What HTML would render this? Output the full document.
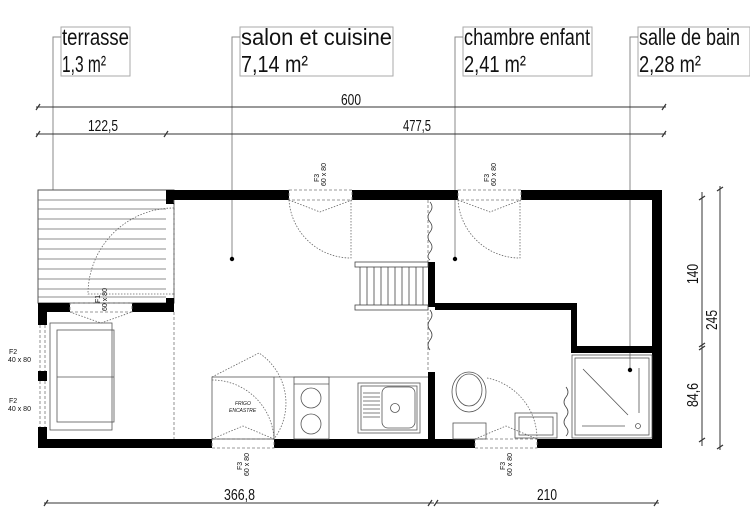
<!DOCTYPE html>
<html><head><meta charset="utf-8"><style>
html,body{margin:0;padding:0;background:#fff;}
svg{display:block;}
text{font-family:"Liberation Sans Narrow","Liberation Sans",sans-serif;fill:#111;}
</style></head><body>
<svg width="750" height="530" viewBox="0 0 750 530" xmlns="http://www.w3.org/2000/svg">
<g fill="none" stroke="#aaa" stroke-width="1">
<rect x="61" y="27" width="69" height="49"/>
<rect x="240" y="27" width="153" height="49"/>
<rect x="463" y="27" width="129" height="49"/>
<rect x="638" y="27" width="112" height="49"/>
</g>
<g stroke="#888" stroke-width="1" fill="none">
<polyline points="61,37 53,37 53,259"/>
<polyline points="240,37 232,37 232,259"/>
<polyline points="463,37 455,37 455,259"/>
<polyline points="638,37 630,37 630,370"/>
</g>
<g fill="#000">
<circle cx="53" cy="259" r="2.2"/><circle cx="232" cy="259" r="2.2"/>
<circle cx="455" cy="259" r="2.2"/><circle cx="630" cy="370" r="2.2"/>
</g>
<g font-size="23" lengthAdjust="spacingAndGlyphs">
<text x="62" y="45" textLength="67" lengthAdjust="spacingAndGlyphs">terrasse</text>
<text x="62" y="72" textLength="44" lengthAdjust="spacingAndGlyphs">1,3 m²</text>
<text x="241" y="45" textLength="151" lengthAdjust="spacingAndGlyphs">salon et cuisine</text>
<text x="241" y="72" textLength="67" lengthAdjust="spacingAndGlyphs">7,14 m²</text>
<text x="464" y="45" textLength="126" lengthAdjust="spacingAndGlyphs">chambre enfant</text>
<text x="464" y="72" textLength="62" lengthAdjust="spacingAndGlyphs">2,41 m²</text>
<text x="639" y="45" textLength="101" lengthAdjust="spacingAndGlyphs">salle de bain</text>
<text x="639" y="72" textLength="62" lengthAdjust="spacingAndGlyphs">2,28 m²</text>
</g>
<g stroke="#333" stroke-width="1" fill="none">
<line x1="36" y1="107" x2="666" y2="107"/>
<line x1="36" y1="134" x2="666" y2="134"/>
<line x1="44" y1="503" x2="434" y2="503"/>
<line x1="436" y1="503" x2="659" y2="503"/>
<line x1="702" y1="192" x2="702" y2="446"/>
<line x1="720" y1="186" x2="720" y2="450"/>
<g stroke-width="1.2">
<line x1="36" y1="110" x2="40" y2="104"/><line x1="662" y1="110" x2="666" y2="104"/>
<line x1="36" y1="137" x2="40" y2="131"/><line x1="164" y1="137" x2="168" y2="131"/><line x1="662" y1="137" x2="666" y2="131"/>
<line x1="44" y1="506" x2="48" y2="500"/><line x1="428" y1="506" x2="432" y2="500"/><line x1="434" y1="506" x2="438" y2="500"/><line x1="654" y1="506" x2="658" y2="500"/>
<line x1="699" y1="200" x2="705" y2="196"/><line x1="699" y1="347" x2="705" y2="343"/><line x1="699" y1="350" x2="705" y2="346"/><line x1="699" y1="442" x2="705" y2="438"/>
<line x1="717" y1="191" x2="723" y2="187"/><line x1="717" y1="449" x2="723" y2="445"/>
</g>
</g>
<g font-size="16">
<text x="341" y="105" textLength="20" lengthAdjust="spacingAndGlyphs">600</text>
<text x="88" y="131" textLength="30" lengthAdjust="spacingAndGlyphs">122,5</text>
<text x="403" y="131" textLength="28" lengthAdjust="spacingAndGlyphs">477,5</text>
<text x="224" y="500" textLength="31" lengthAdjust="spacingAndGlyphs">366,8</text>
<text x="537" y="500" textLength="20" lengthAdjust="spacingAndGlyphs">210</text>
<text transform="translate(698,284) rotate(-90)" textLength="20" lengthAdjust="spacingAndGlyphs">140</text>
<text transform="translate(717,330) rotate(-90)" textLength="20" lengthAdjust="spacingAndGlyphs">245</text>
<text transform="translate(698,407) rotate(-90)" textLength="24" lengthAdjust="spacingAndGlyphs">84,6</text>
</g>
<rect x="38" y="190" width="136" height="113" fill="#fff" stroke="#555" stroke-width="1"/>
<g stroke="#666" stroke-width="0.8">
<line x1="38" y1="200" x2="166" y2="200"/><line x1="38" y1="209" x2="166" y2="209"/><line x1="38" y1="219" x2="166" y2="219"/>
<line x1="38" y1="229" x2="166" y2="229"/><line x1="38" y1="239" x2="166" y2="239"/><line x1="38" y1="249" x2="166" y2="249"/>
<line x1="38" y1="259" x2="166" y2="259"/><line x1="38" y1="269" x2="166" y2="269"/><line x1="38" y1="279" x2="166" y2="279"/>
<line x1="38" y1="289" x2="166" y2="289"/><line x1="38" y1="297" x2="166" y2="297"/>
</g>
<g fill="#000">
<rect x="166" y="190" width="123" height="10"/>
<rect x="352" y="190" width="106" height="10"/>
<rect x="521" y="190" width="141" height="10"/>
<rect x="652" y="190" width="10" height="258"/>
<rect x="38" y="439" width="174" height="9"/>
<rect x="274" y="439" width="201" height="9"/>
<rect x="537" y="439" width="125" height="9"/>
<rect x="166" y="190" width="8" height="14"/>
<rect x="166" y="298" width="8" height="14"/>
<rect x="38" y="303" width="32" height="9"/>
<rect x="132" y="303" width="42" height="9"/>
<rect x="38" y="303" width="9" height="22"/>
<rect x="38" y="371" width="9" height="10"/>
<rect x="38" y="427" width="9" height="21"/>
<rect x="428" y="262" width="7" height="45"/>
<rect x="428" y="372" width="7" height="76"/>
<rect x="435" y="303" width="142" height="7"/>
<rect x="571" y="303" width="6" height="50"/>
<rect x="571" y="346" width="81" height="7"/>
</g>
<g stroke="#777" stroke-width="0.8" fill="none" stroke-dasharray="3,2">
<line x1="174" y1="200" x2="174" y2="298"/>
<line x1="174" y1="312" x2="174" y2="439"/>
<line x1="428" y1="200" x2="428" y2="262"/>
<line x1="428" y1="307" x2="428" y2="372"/>
<rect x="289" y="190" width="63" height="10"/><rect x="458" y="190" width="63" height="10"/>
<rect x="212" y="439" width="62" height="9"/><rect x="475" y="439" width="62" height="9"/>
<rect x="70" y="303" width="62" height="9"/>
<line x1="40" y1="325" x2="40" y2="371"/><line x1="45" y1="325" x2="45" y2="371"/>
<line x1="40" y1="381" x2="40" y2="427"/><line x1="45" y1="381" x2="45" y2="427"/>
</g>
<g stroke="#666" stroke-width="0.8" fill="none" stroke-dasharray="1.5,1.5">
<path d="M174,208 A86,86 0 0 0 88,294 L174,294"/>
<path d="M289,200 A62,62 0 0 0 351,258 L351,200"/>
<path d="M458,200 A62,62 0 0 0 520,258 L520,200"/>
<polyline points="289,200 320,212 352,200"/><polyline points="458,200 490,212 521,200"/>
<polyline points="70,312 101,323 132,312"/>
<polyline points="212,439 243,426 274,439"/><polyline points="475,439 506,426 537,439"/>
<path d="M212,377 L259,353 A60,60 0 0 1 274,439"/>
<path d="M212,380 A62,62 0 0 1 274,439"/>
<path d="M487,378 A62,62 0 0 1 537,439"/>
</g>
<g stroke="#444" stroke-width="0.8" fill="none">
<path d="M430,202 q4,5 0,10 q-4,5 0,10 q4,5 0,10 q-4,5 0,10 q4,5 0,10 q-4,5 0,8"/>
<path d="M430,310 q4,5 0,10 q-4,5 0,10 q4,5 0,10 q-4,5 0,10"/>
<path d="M566,387 q4,5 0,10 q-4,5 0,10 q4,5 0,10 q-4,5 0,10 q4,5 0,9"/>
</g>
<g stroke="#444" stroke-width="0.8" fill="#fff">
<rect x="355" y="262" width="73" height="5"/>
<rect x="355" y="305" width="73" height="5"/>
<path d="M360,267 V305 M367,267 V305 M374,267 V305 M381,267 V305 M388,267 V305 M395,267 V305 M402,267 V305 M409,267 V305 M416,267 V305 M423,267 V305" fill="none"/>
</g>
<g stroke="#555" stroke-width="0.8" fill="none">
<rect x="50" y="323" width="62" height="107"/>
<rect x="57" y="330" width="57" height="92"/>
<line x1="57" y1="377" x2="114" y2="377"/>
<rect x="212" y="377" width="62" height="62"/>
<line x1="274" y1="377" x2="428" y2="377"/>
<rect x="294" y="377" width="35" height="62"/>
<line x1="294" y1="384" x2="329" y2="384"/>
<circle cx="311" cy="398" r="10"/><circle cx="311" cy="424" r="10"/>
<rect x="358" y="383" width="62" height="50"/>
<rect x="361" y="386" width="56" height="44"/>
<rect x="382" y="387" width="33" height="41" rx="6"/>
<circle cx="395" cy="408" r="4.5"/>
<path d="M363,393 h17 M363,397 h17 M363,401 h17 M363,405 h17 M363,409 h17 M363,413 h17 M363,417 h17"/>
<ellipse cx="469" cy="392" rx="17" ry="20"/>
<ellipse cx="469" cy="390" rx="13" ry="16"/>
<rect x="453" y="423" width="33" height="16"/>
<rect x="515" y="413" width="42" height="25"/>
<rect x="519" y="417" width="34" height="18"/>
<rect x="572" y="355" width="80" height="83"/>
<rect x="575" y="358" width="74" height="77"/>
<line x1="583" y1="369" x2="628" y2="415"/>
<line x1="639" y1="368" x2="639" y2="413"/>
<line x1="582" y1="426" x2="625" y2="426"/>
<circle cx="638" cy="426" r="2.5"/>
</g>
<g font-family="Liberation Sans,sans-serif" font-size="7" fill="#333">
<text x="9" y="354">F2</text><text x="8" y="362">40 x 80</text>
<text x="9" y="403">F2</text><text x="8" y="411">40 x 80</text>
<text transform="translate(319,182) rotate(-90)">F3</text><text transform="translate(326,186) rotate(-90)">60 x 80</text>
<text transform="translate(489,182) rotate(-90)">F3</text><text transform="translate(496,186) rotate(-90)">60 x 80</text>
<text transform="translate(242,470) rotate(-90)">F3</text><text transform="translate(249,476) rotate(-90)">60 x 80</text>
<text transform="translate(505,470) rotate(-90)">F3</text><text transform="translate(512,476) rotate(-90)">60 x 80</text>
<text transform="translate(100,303) rotate(-90)">F1</text><text transform="translate(107,311) rotate(-90)">60 x 80</text>
<text x="235" y="405" font-size="5" font-style="italic">FRIGO</text>
<text x="229" y="412" font-size="5" font-style="italic">ENCASTRE</text>
</g>
</svg>
</body></html>
